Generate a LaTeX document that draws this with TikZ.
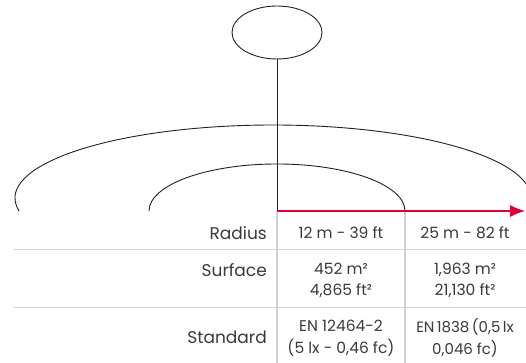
\documentclass[tikz,border=0pt]{standalone}
\usepackage{fontspec}
\setmainfont{Poppins}
\usetikzlibrary{arrows.meta,shapes.geometric}
\definecolor{ink}{HTML}{222222}
\definecolor{txt}{HTML}{3A3A3A}
\definecolor{rule}{HTML}{D2D2D2}
\definecolor{accent}{HTML}{E2003C}
\newcommand{\tsp}{\hspace{2.4pt}}
\tikzset{
  blk/.style={draw=ink, line width=0.9pt},
  gridline/.style={draw=rule, line width=1.4pt},
  lbl/.style={anchor=east, text=txt, font=\fontsize{17}{21}\selectfont, inner sep=0pt},
  val/.style={anchor=center, text=txt, align=center, font=\fontsize{15.5}{21.5}\selectfont, inner sep=0pt},
  tight/.style={font=\fontsize{15}{21.5}\selectfont},
}
\begin{document}
\begin{tikzpicture}[x=1pt,y=1pt]
\useasboundingbox (0,0) rectangle (526,363);
% grey table lines
\coordinate (c0) at (277,152);
\coordinate (c1) at (405,152);
\coordinate (b0) at (277,0);
\coordinate (b1) at (405,0);
\coordinate (h1l) at (14,113.3);
\coordinate (h1r) at (526,113.3);
\coordinate (h2l) at (14,55.7);
\coordinate (h2r) at (526,55.7);
\draw[gridline] (c0) -- (b0);
\draw[gridline] (c1) -- (b1);
\draw[gridline] (h1l) -- (h1r);
\draw[gridline] (h2l) -- (h2r);
% lamp
\node[blk, ellipse, minimum width=90pt, minimum height=53pt, inner sep=0pt] (lamp) at (277,330.5) {};
\draw[blk] (lamp.south) -- (c0);
% arcs
\begin{scope}
\clip (0,0) rectangle (526,363);
\draw[blk] (273,165) ++(190.26:258 and 73) arc[start angle=190.26, end angle=-10.26, x radius=258, y radius=73];
\draw[blk] (149,152) arc[start angle=180, end angle=0, x radius=128, y radius=47];
\end{scope}
% red arrow
\coordinate (tip) at (525,152);
\draw[draw=accent, line width=1.1pt, -{Latex[length=15pt,width=12pt]}] (c0) -- (tip);
% texts
\node[lbl] (lr) at (267,129.5) {Radius};
\node[lbl] (ls) at (267,93) {Surface};
\node[lbl] (lst) at (267,26) {Standard};
\node[val] (r1) at (341,130) {12 m - 39 ft};
\node[val] (r2) at (465,130) {25 m - 82 ft};
\node[val] (s1) at (341,82.5) {452 m²\\4,865 ft²};
\node[val] (s2) at (465,82.5) {1,963 m²\\21,130 ft²};
\node[val] (t1) at (341,25) {EN 12464-2\\(5 lx - 0,46 fc)};
\node[val, tight] (t2) at (465,25) {EN\tsp1838\tsp(0,5\tsp lx\\0,046 fc)};
\end{tikzpicture}
\end{document}
